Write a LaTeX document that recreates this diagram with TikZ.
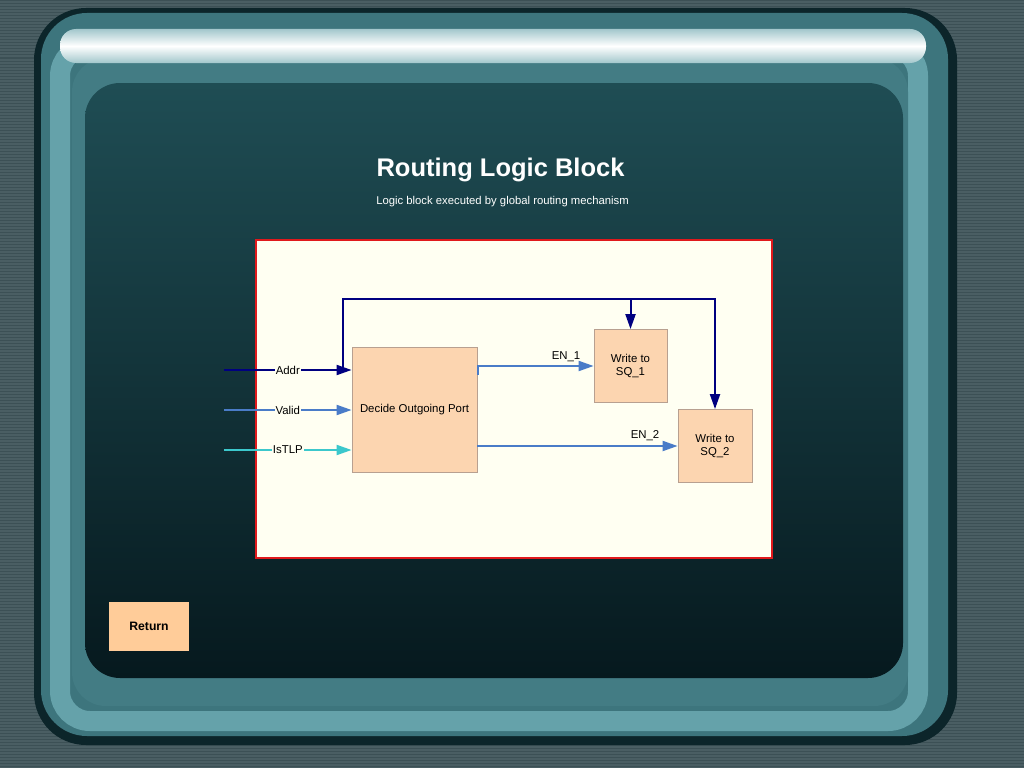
\documentclass[tikz,border=0pt]{standalone}
\usepackage{fontspec}
\setmainfont{Liberation Sans}
\usetikzlibrary{arrows.meta,shapes.geometric}
\definecolor{bgc}{HTML}{4A5E63}
\definecolor{bgline}{HTML}{3C5055}
\definecolor{framebase}{HTML}{3D757D}
\definecolor{framelite}{HTML}{65A2AA}
\definecolor{frameedge}{HTML}{0C252A}
\definecolor{scrtop}{HTML}{1F4D54}
\definecolor{scrbot}{HTML}{06191E}
\definecolor{ivory}{HTML}{FFFFF2}
\definecolor{redb}{HTML}{E0191C}
\definecolor{peach}{HTML}{FCD5B0}
\definecolor{peachb}{HTML}{B8A090}
\definecolor{retc}{HTML}{FFCC99}
\definecolor{navyw}{HTML}{000080}
\definecolor{steelw}{HTML}{4A7CC8}
\definecolor{turqw}{HTML}{3CC8CC}
\tikzset{
  blockbox/.style={draw=peachb, fill=peach, line width=0.8pt, align=center, font=\fontsize{11.4}{13.5}\selectfont, inner sep=2pt},
  wire/.style={line width=2pt, -{Triangle[length=15pt,width=10pt]}},
  wlabel/.style={fill=ivory, inner sep=1pt, font=\fontsize{11.4}{13}\selectfont, text=black},
  elabel/.style={inner sep=1pt, font=\fontsize{11.4}{13}\selectfont, text=black},
}
\begin{document}
\begin{tikzpicture}[x=1pt,y=-1pt]
\useasboundingbox (0,0) rectangle (1024,768);
% background texture
\fill[bgc] (0,0) rectangle (1024,768);
\foreach \yy in {1,4,...,767} {\draw[bgline, line width=1pt] (0,\yy) -- (1024,\yy);}
% frame
\fill[frameedge, rounded corners=52pt] (34,8) rectangle (957,745);
\fill[framebase, rounded corners=46pt] (41,13) rectangle (948,736);
\draw[framelite, line width=20pt, rounded corners=30pt] (60,46) rectangle (918,721);
\fill[framebase!85!framelite, rounded corners=34pt] (72,58) rectangle (908,706);
\shade[top color=framelite!60!white, bottom color=framelite!60!white, middle color=white, rounded corners=16pt] (60,29) rectangle (926,63);
% screen
\shade[top color=scrtop, bottom color=scrbot, rounded corners=35pt] (85,83) rectangle (903,678);
% title
\node[text=white, font=\fontsize{25.5}{30}\bfseries\selectfont] (title) at (500.5,170) {Routing Logic Block};
\node[text=white, font=\fontsize{11.3}{13}\selectfont] (subtitle) at (502.5,202) {Logic block executed by global routing mechanism};
% diagram panel
\node[draw=redb, fill=ivory, line width=2pt, minimum width=516pt, minimum height=318pt, inner sep=0pt] (panel) at (514,399) {};
% blocks
\node[blockbox, minimum width=125pt, minimum height=125pt] (decide) at (414.5,409.5) {Decide Outgoing Port};
\node[blockbox, minimum width=73pt, minimum height=73pt] (sq1) at (630.5,366) {Write to\\SQ\_1};
\node[blockbox, minimum width=74pt, minimum height=73pt] (sq2) at (715,446) {Write to\\SQ\_2};
% inputs
\coordinate (addrin) at (224,370);
\coordinate (validin) at (224,410);
\coordinate (tlpin) at (224,450);
\draw[wire, navyw] (addrin) -- node[wlabel] (addrl) {Addr} (addrin -| decide.west);
\draw[wire, steelw] (validin) -- node[wlabel] (validl) {Valid} (validin -| decide.west);
\draw[wire, turqw] (tlpin) -- node[wlabel] (tlpl) {IsTLP} (tlpin -| decide.west);
% bus
\coordinate (tap) at (343,370);
\coordinate (bus) at (343,299);
\draw[wire, navyw] (tap) -- (bus) -| (sq2.north);
\draw[wire, navyw] (bus -| sq1.north) -- (sq1.north);
% enables
\coordinate (en1s) at (478,375);
\draw[wire, steelw] (en1s) |- (sq1.west);
\node[elabel] (en1l) at (566,357) {EN\_1};
\draw[wire, steelw] (decide.east |- sq2.west) -- (sq2.west);
\node[elabel] (en2l) at (645,436) {EN\_2};
% return button
\node[fill=retc, minimum width=80pt, minimum height=49pt, font=\fontsize{12.2}{14}\bfseries\selectfont] (ret) at (149,626) {Return};
\end{tikzpicture}
\end{document}
